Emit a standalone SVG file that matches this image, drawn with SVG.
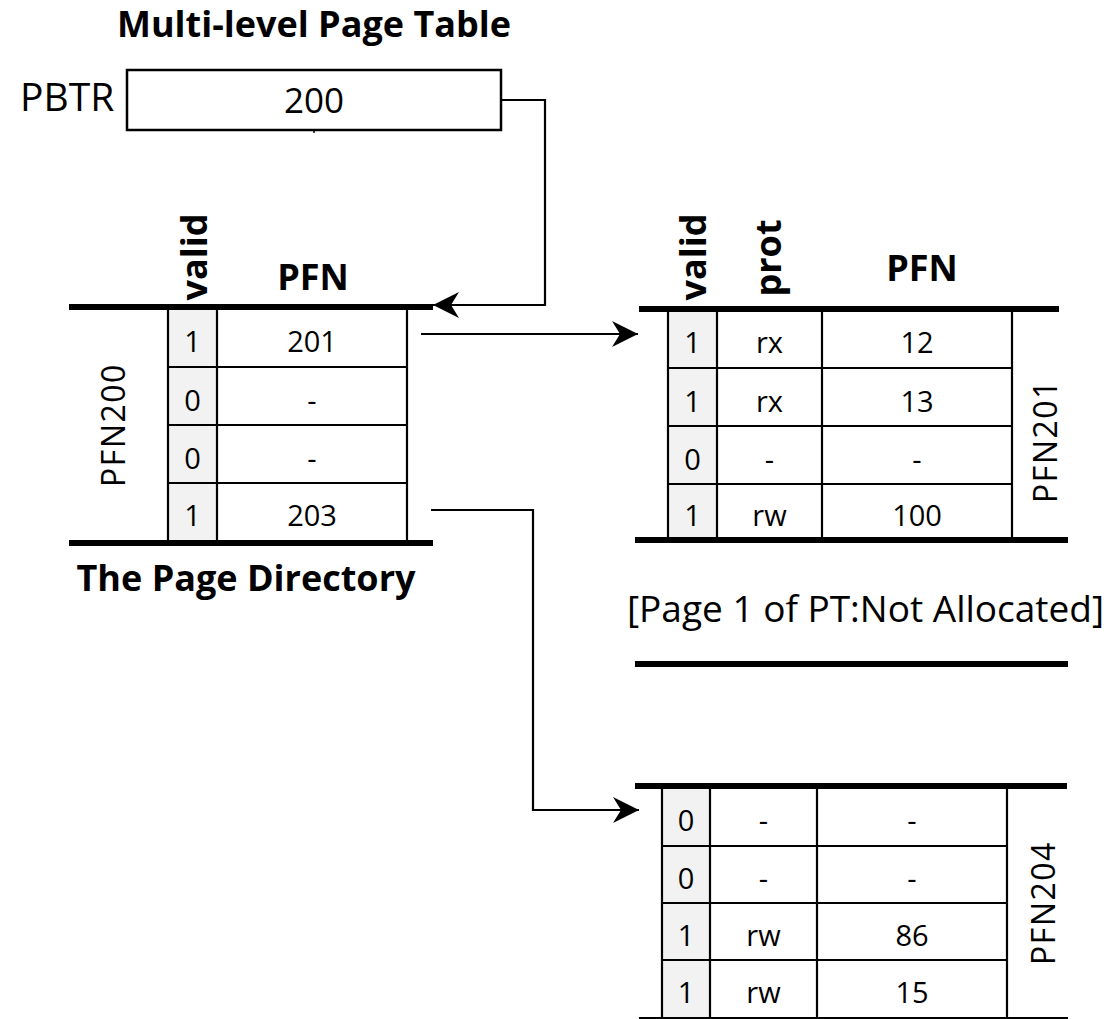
<svg xmlns="http://www.w3.org/2000/svg" width="1116" height="1019" viewBox="0 0 1116 1019">
  <style>
    text { font-family: "Open Sans", "Noto Sans", "Liberation Sans", sans-serif; fill: #000; }
    .title { font-size: 36px; font-weight: 700; text-anchor: middle; }
    .hdr { font-size: 36px; font-weight: 700; text-anchor: middle; }
    .cell { font-size: 29px; text-anchor: middle; }
    .side { font-size: 32px; text-anchor: middle; letter-spacing: 1.5px; }
    .note { font-size: 37px; }
    .thick { stroke: #000; stroke-width: 6; fill: none; }
    .grid { stroke: #000; stroke-width: 2.2; fill: none; }
    .vcol { fill: #f2f2f2; }
    .wire { stroke: #000; stroke-width: 2.2; fill: none; }
    .reg { fill: #fff; stroke: #000; stroke-width: 2.5; }
  </style>
  <defs>
    <marker id="arrow" markerUnits="userSpaceOnUse" markerWidth="27" markerHeight="26" refX="26" refY="13" orient="auto">
      <path d="M0,0 L26,13 L0,26 L8,13 Z" fill="#000"/>
    </marker>
  </defs>

  <!-- heading -->
  <text class="title" x="314" y="37" font-size="35">Multi-level Page Table</text>

  <!-- page-table base register -->
  <g id="pbtr">
    <text x="20" y="111" font-size="39">PBTR</text>
    <rect class="reg" x="127" y="70" width="374" height="60"/>
    <text x="314" y="113" text-anchor="middle" font-size="35">200</text>
    <line x1="314" y1="130" x2="314" y2="133" stroke="#000" stroke-width="1.5"/>
  </g>

  <!-- page directory (PFN 200) -->
  <g id="page-directory">
    <text class="hdr" transform="translate(207,257) rotate(-90)">valid</text>
    <text class="hdr" x="313" y="290">PFN</text>
    <rect class="vcol" x="168" y="307" width="49" height="236"/>
    <path class="grid" d="M168,307 V543 M217,307 V543 M407,307 V543 M168,367 H407 M168,425 H407 M168,483 H407"/>
    <line class="thick" x1="69" y1="307" x2="433" y2="307"/>
    <line class="thick" x1="69" y1="543" x2="433" y2="543"/>
    <text class="cell" x="192.5" y="352">1</text><text class="cell" x="312" y="352">201</text>
    <text class="cell" x="192.5" y="411">0</text><text class="cell" x="312" y="411">-</text>
    <text class="cell" x="192.5" y="469">0</text><text class="cell" x="312" y="469">-</text>
    <text class="cell" x="192.5" y="526">1</text><text class="cell" x="312" y="526">203</text>
    <text class="side" transform="translate(125,425) rotate(-90)">PFN200</text>
    <text class="title" x="246" y="591">The Page Directory</text>
  </g>

  <!-- page table page at PFN 201 -->
  <g id="pt-pfn201">
    <text class="hdr" transform="translate(706,257) rotate(-90)">valid</text>
    <text class="hdr" transform="translate(781,258) rotate(-90)">prot</text>
    <text class="hdr" x="922" y="281">PFN</text>
    <rect class="vcol" x="668" y="309" width="49" height="231"/>
    <path class="grid" d="M668,309 V540 M717,309 V540 M822,309 V540 M1012,309 V540 M668,368 H1012 M668,426 H1012 M668,484 H1012"/>
    <line class="thick" x1="639" y1="309" x2="1059" y2="309"/>
    <line class="thick" x1="635" y1="540" x2="1068" y2="540"/>
    <text class="cell" x="692.5" y="353">1</text><text class="cell" x="769.5" y="353">rx</text><text class="cell" x="917" y="353">12</text>
    <text class="cell" x="692.5" y="412">1</text><text class="cell" x="769.5" y="412">rx</text><text class="cell" x="917" y="412">13</text>
    <text class="cell" x="692.5" y="470">0</text><text class="cell" x="769.5" y="470">-</text><text class="cell" x="917" y="470">-</text>
    <text class="cell" x="692.5" y="526">1</text><text class="cell" x="769.5" y="526">rw</text><text class="cell" x="917" y="526">100</text>
    <text class="side" transform="translate(1057,441) rotate(-90)">PFN201</text>
  </g>

  <!-- page table page 1: not allocated -->
  <g id="pt-unallocated">
    <text class="note" x="627" y="622">[Page 1 of PT:Not Allocated]</text>
    <line class="thick" x1="635" y1="664" x2="1068" y2="664"/>
  </g>

  <!-- page table page at PFN 204 -->
  <g id="pt-pfn204">
    <rect class="vcol" x="662" y="786" width="48" height="233"/>
    <path class="grid" d="M662,786 V1019 M710,786 V1019 M817,786 V1019 M1007,786 V1019 M662,846 H1007 M662,903 H1007 M662,960 H1007"/>
    <line class="thick" x1="635" y1="786" x2="1067" y2="786"/>
    <line class="thick" x1="639" y1="1020" x2="1068" y2="1020"/>
    <text class="cell" x="686" y="831">0</text><text class="cell" x="763.5" y="831">-</text><text class="cell" x="912" y="831">-</text>
    <text class="cell" x="686" y="889">0</text><text class="cell" x="763.5" y="889">-</text><text class="cell" x="912" y="889">-</text>
    <text class="cell" x="686" y="946">1</text><text class="cell" x="763.5" y="946">rw</text><text class="cell" x="912" y="946">86</text>
    <text class="cell" x="686" y="1003">1</text><text class="cell" x="763.5" y="1003">rw</text><text class="cell" x="912" y="1003">15</text>
    <text class="side" transform="translate(1055,903) rotate(-90)">PFN204</text>
  </g>

  <!-- pointers -->
  <g id="connectors">
    <path class="wire" d="M501,100 H545 V305 H433" marker-end="url(#arrow)"/>
    <path class="wire" d="M421,334 H638" marker-end="url(#arrow)"/>
    <path class="wire" d="M431,510 H533 V810 H639" marker-end="url(#arrow)"/>
  </g>
</svg>
